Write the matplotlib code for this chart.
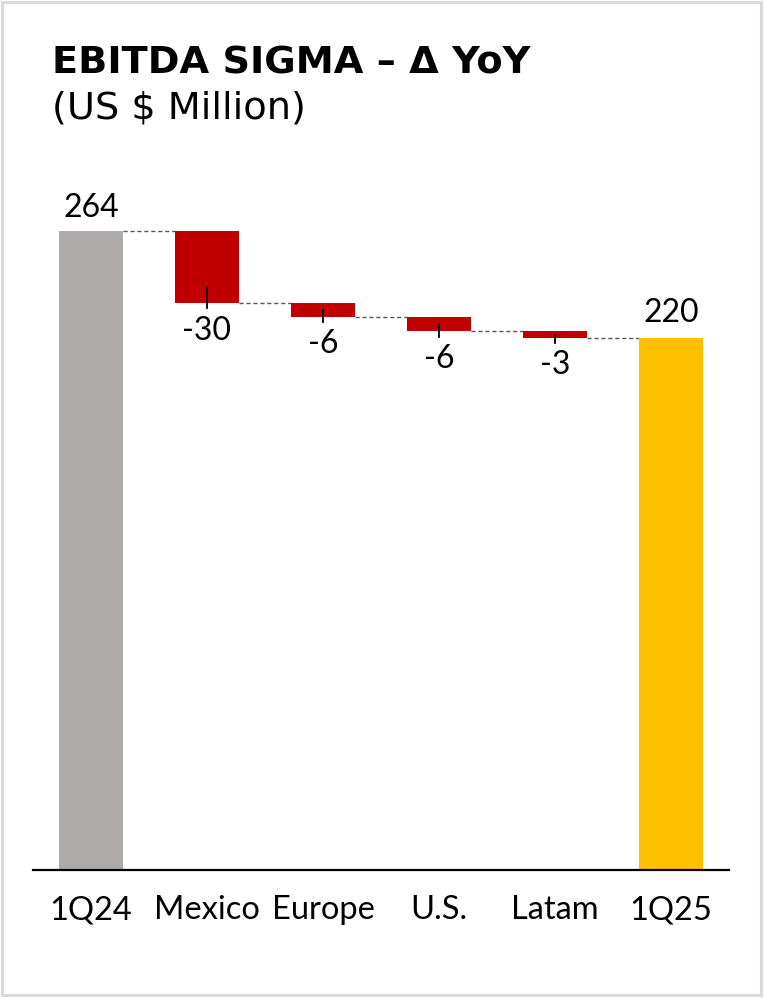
import matplotlib
matplotlib.use("Agg")
import matplotlib.pyplot as plt
from matplotlib.patches import Rectangle
import numpy as np

categories = ["1Q24", "Mexico", "Europe", "U.S.", "Latam", "1Q25"]
start_value = 264
deltas = [-29.8, -5.7, -6.0, -2.6]
end_value = 220

title = "EBITDA SIGMA – Δ YoY"
subtitle = "(US $ Million)"

GRAY = "#AFABAB"
RED = "#C00000"
YELLOW = "#FFC000"

W, H = 764, 998
DPI = 100
fig = plt.figure(figsize=(W / DPI, H / DPI), dpi=DPI)

# axes placed in pixel coordinates
ax_left, ax_right = 33, 729
ax_bottom_px = 870
ymax = 300
px_per_unit = (870 - 231) / 264.0
ax_height_px = ymax * px_per_unit
ax = fig.add_axes([ax_left / W, 1 - ax_bottom_px / H,
                   (ax_right - ax_left) / W, ax_height_px / H])
ax.set_xlim(-0.5, len(categories) - 0.5)
ax.set_ylim(0, ymax)

label_font = "Lato"
bw = 0.56

# running totals
tops = [start_value]
for d in deltas:
    tops.append(tops[-1] + d)

x = np.arange(len(categories))
# first and last bars
ax.bar(x[0], start_value, width=bw, color=GRAY, zorder=2)
ax.bar(x[-1], end_value, width=bw, color=YELLOW, zorder=2)

# delta bars
for i, d in enumerate(deltas):
    xi = x[i + 1]
    prev = tops[i]
    cur = tops[i + 1]
    bottom = min(prev, cur)
    h = abs(d)
    ax.bar(xi, h, bottom=bottom, width=bw, color=RED, zorder=2)
    # small marker line
    ax.plot([xi, xi], [bottom - 2.1, bottom + min(h / 2, 6.6)],
            color="black", lw=1.3, zorder=3)
    ax.annotate(f"{round(d):d}", (xi, bottom), xytext=(0, -9),
                textcoords="offset points", ha="center", va="top",
                fontsize=23, family=label_font, color="black")

# connectors
for i in range(len(categories) - 1):
    lvl = tops[i] if i < len(tops) else end_value
    ax.plot([x[i] + bw / 2, x[i + 1] - bw / 2], [lvl, lvl],
            color="#595959", lw=1.0, ls=(0, (3, 2)), zorder=1)

# value labels for totals
ax.annotate(f"{start_value}", (x[0], start_value), xytext=(0, 6),
            textcoords="offset points", ha="center", va="bottom",
            fontsize=23, family=label_font, color="black")
ax.annotate(f"{end_value}", (x[-1], end_value), xytext=(0, 7),
            textcoords="offset points", ha="center", va="bottom",
            fontsize=23, family=label_font, color="black")

# axes styling
for s in ["top", "right", "left"]:
    ax.spines[s].set_visible(False)
ax.spines["bottom"].set_linewidth(1.6)
ax.spines["bottom"].set_color("black")
ax.set_yticks([])
ax.set_xticks(x)
ax.set_xticklabels(categories, fontsize=23.5, family=label_font)
ax.tick_params(axis="x", length=0, pad=18)
ax.set_facecolor("none")

# titles
fig.text(52 / W, 1 - 73 / H, title, fontsize=27.5, fontweight="bold",
         family="DejaVu Sans", ha="left", va="baseline")
fig.text(52 / W, 1 - 119 / H, subtitle, fontsize=27.5,
         family="DejaVu Sans", ha="left", va="baseline")

# figure border
fig.patches.append(Rectangle((1.5 / W, 3.5 / H), (W - 4.5) / W, (H - 5) / H,
                             transform=fig.transFigure, fill=False,
                             edgecolor="#D9D9D9", lw=2.2))

fig.savefig("out.png", dpi=DPI)
